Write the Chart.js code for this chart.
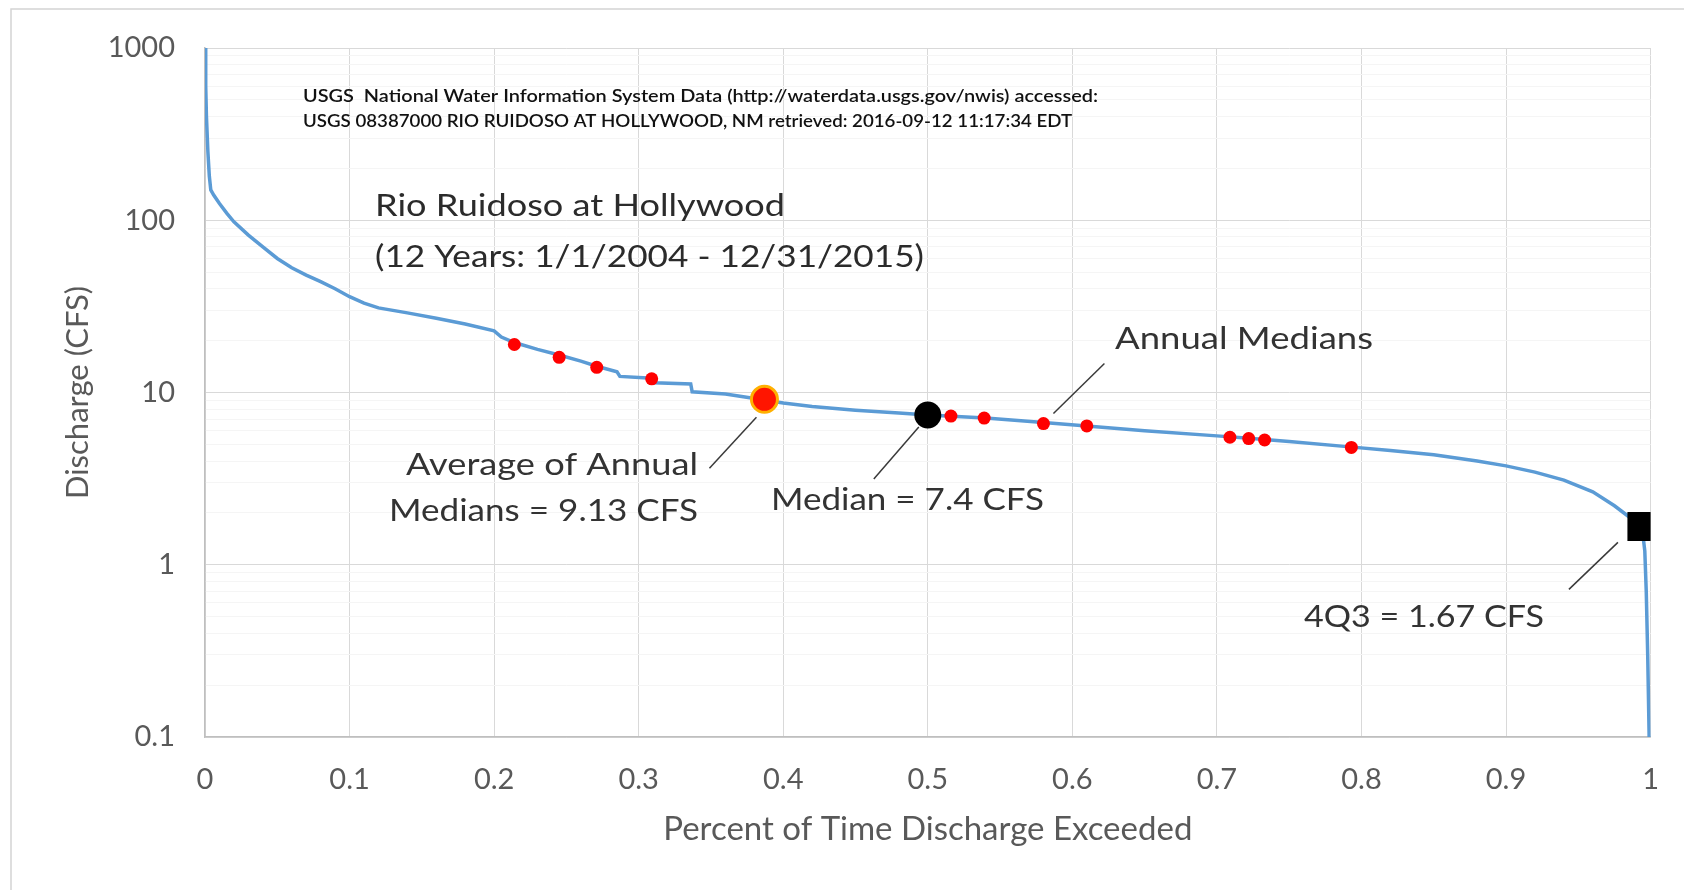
<!DOCTYPE html>
<html><head><meta charset="utf-8">
<script src="https://cdn.jsdelivr.net/npm/chart.js@4.4.1/dist/chart.umd.min.js"></script>
<style>html,body{margin:0;padding:0;background:#fff;overflow:hidden}</style>
</head><body>
<canvas id="c" width="1684" height="890"></canvas>
<script>
// Flow duration curve (fraction of time exceeded vs discharge, CFS)
const exceedance = [0, 0.0005, 0.001, 0.002, 0.003, 0.004, 0.006, 0.01, 0.015, 0.02, 0.03, 0.04, 0.05, 0.06, 0.07, 0.08, 0.09, 0.1, 0.11, 0.12, 0.14, 0.16, 0.18, 0.2, 0.205, 0.214, 0.23, 0.245, 0.26, 0.271, 0.285, 0.287, 0.309, 0.311, 0.336, 0.337, 0.36, 0.387, 0.4, 0.42, 0.45, 0.48, 0.5, 0.52, 0.54, 0.58, 0.61, 0.65, 0.7, 0.72, 0.75, 0.79, 0.82, 0.85, 0.88, 0.9, 0.92, 0.94, 0.96, 0.975, 0.985, 0.994, 0.996, 0.997, 0.998, 0.999];
const discharge  = [1000, 600, 400, 250, 180, 150, 140, 125, 110, 98, 82, 70, 60, 53, 48, 44, 40, 36, 33, 31, 29, 27, 25, 22.8, 21, 19.5, 17.8, 16.5, 15.2, 14.2, 13.2, 12.4, 12.1, 11.4, 11.2, 10.1, 9.8, 9.05, 8.7, 8.3, 7.9, 7.6, 7.4, 7.25, 7.1, 6.7, 6.4, 6.0, 5.6, 5.45, 5.2, 4.85, 4.6, 4.35, 4.0, 3.75, 3.45, 3.1, 2.65, 2.2, 1.9, 1.67, 1.2, 0.7, 0.3, 0.1];

// Annual medians (12 years)
const annualMedianX = [0.214, 0.245, 0.271, 0.309, 0.516, 0.539, 0.580, 0.610, 0.709, 0.722, 0.733, 0.793];
const annualMedianY = [19.0, 16.0, 14.0, 12.0, 7.3, 7.1, 6.6, 6.4, 5.5, 5.4, 5.3, 4.8];

const avgMedianX = [0.387], avgMedianY = [9.13];
const medianX = [0.5], medianY = [7.4];
const q43X = [0.994], q43Y = [1.67];

const xTickValues = [0, 0.1, 0.2, 0.3, 0.4, 0.5, 0.6, 0.7, 0.8, 0.9, 1];
const xTickLabels = ['0', '0.1', '0.2', '0.3', '0.4', '0.5', '0.6', '0.7', '0.8', '0.9', '1'];
const yMajorTicks = [0.1, 1, 10, 100, 1000];
const yTickLabels = ['0.1', '1', '10', '100', '1000'];

const zip = (xs, ys) => xs.map((x, i) => ({x: x, y: ys[i]}));
const isMajorY = v => yMajorTicks.some(m => Math.abs(m - v) < 1e-9 * Math.max(1, m));

function drawFit(ctx, text, x, y, size, width, align, color, weight) {
  ctx.save();
  ctx.font = (weight || 'normal') + ' ' + size + 'px Lato';
  const w = ctx.measureText(text).width;
  const sx = width / w;
  ctx.fillStyle = color;
  ctx.textBaseline = 'middle';
  ctx.textAlign = 'left';
  const left = align === 'right' ? x - width : x;
  ctx.translate(left, y);
  ctx.scale(sx, 1);
  ctx.fillText(text, 0, 0);
  ctx.restore();
}

const annotations = {
  id: 'annotations',
  beforeDraw(chart) {
    const ctx = chart.ctx;
    ctx.save();
    ctx.fillStyle = '#fff';
    ctx.fillRect(0, 0, chart.width, chart.height);
    ctx.strokeStyle = '#d4d4d4';
    ctx.lineWidth = 1.5;
    ctx.strokeRect(11, 9, chart.width + 20, chart.height + 20);
    ctx.restore();
  },
  afterDatasetsDraw(chart) {
    const ctx = chart.ctx;
    const xs = chart.scales.x, ys = chart.scales.y;
    const px = (x, y) => [xs.getPixelForValue(x), ys.getPixelForValue(y)];
    ctx.save();
    ctx.strokeStyle = '#3a3a3a';
    ctx.lineWidth = 1.5;
    const leader = (p, a, b) => { ctx.beginPath(); ctx.moveTo(p[0] + a[0], p[1] + a[1]); ctx.lineTo(p[0] + b[0], p[1] + b[1]); ctx.stroke(); };
    leader(px(avgMedianX[0], avgMedianY[0]), [-8, 18], [-55, 69]);
    leader(px(medianX[0], medianY[0]), [-9, 12], [-54, 64]);
    leader(px(annualMedianX[6], annualMedianY[6]), [10, -10], [61, -60]);
    leader(px(q43X[0], q43Y[0]), [-24, 16], [-73, 63]);
    ctx.restore();

    drawFit(ctx, 'USGS  National Water Information System Data (http://waterdata.usgs.gov/nwis) accessed:', 303, 97, 17, 795, 'left', '#111', '600');
    drawFit(ctx, 'USGS 08387000 RIO RUIDOSO AT HOLLYWOOD, NM retrieved: 2016-09-12 11:17:34 EDT', 303, 122, 17, 769, 'left', '#111', '600');
    drawFit(ctx, 'Rio Ruidoso at Hollywood', 375, 206, 31, 410, 'left', '#2b2b2b');
    drawFit(ctx, '(12 Years: 1/1/2004 - 12/31/2015)', 375, 257, 31, 549, 'left', '#2b2b2b');
    drawFit(ctx, 'Annual Medians', 1115, 339, 31, 258, 'left', '#333');
    drawFit(ctx, 'Average of Annual', 698, 465, 31, 292, 'right', '#333');
    drawFit(ctx, 'Medians = 9.13 CFS', 698, 511, 31, 309, 'right', '#333');
    drawFit(ctx, 'Median = 7.4 CFS', 771, 500, 31, 273, 'left', '#333');
    drawFit(ctx, '4Q3 = 1.67 CFS', 1304, 617, 31, 240, 'left', '#333');
  }
};

new Chart(document.getElementById('c'), {
  type: 'scatter',
  data: {
    datasets: [
      { label: '4Q3', data: zip(q43X, q43Y), pointStyle: 'rect', pointRadius: 20.5, backgroundColor: '#000', borderWidth: 0, order: 1 },
      { label: 'Median', data: zip(medianX, medianY), pointRadius: 13.5, backgroundColor: '#000', borderWidth: 0, order: 2 },
      { label: 'Average of Annual Medians', data: zip(avgMedianX, avgMedianY), pointRadius: 13, backgroundColor: '#ff1500', borderColor: '#ffb000', borderWidth: 3, order: 3 },
      { label: 'Annual Medians', data: zip(annualMedianX, annualMedianY), pointRadius: 6.5, backgroundColor: '#ff0000', borderWidth: 0, order: 4 },
      { label: 'Flow duration', data: zip(exceedance, discharge), showLine: true, pointRadius: 0, borderColor: '#5b9bd5', borderWidth: 3.5, tension: 0, order: 10 }
    ]
  },
  options: {
    responsive: false,
    animation: false,
    devicePixelRatio: 1,
    layout: { padding: { left: 0, top: 48, right: 30, bottom: 0 } },
    plugins: { legend: { display: false }, tooltip: { enabled: false } },
    scales: {
      x: {
        type: 'linear', position: 'bottom', min: 0, max: 1,
        afterBuildTicks: s => { s.ticks = xTickValues.map(v => ({ value: v })); },
        afterFit: s => { s.height = 153; },
        ticks: { autoSkip: false, maxRotation: 0, padding: 25, color: '#595959', font: { family: 'Lato', size: 29 },
                 callback: (v, i) => xTickLabels[i] },
        grid: { color: '#d9d9d9', lineWidth: 1, drawTicks: false },
        border: { color: '#bfbfbf', width: 1.5 },
        title: { display: true, text: 'Percent of Time Discharge Exceeded', color: '#595959',
                 font: { family: 'Lato', size: 33 }, padding: { top: 0, bottom: 41 } }
      },
      y: {
        type: 'logarithmic', position: 'left', min: 0.1, max: 1000,
        afterBuildTicks: s => {
          const t = [];
          for (let k = 0; k < yMajorTicks.length - 1; k++) {
            for (let m = 1; m < 10; m++) t.push({ value: yMajorTicks[k] * m });
          }
          t.push({ value: yMajorTicks[yMajorTicks.length - 1] });
          s.ticks = t;
        },
        afterFit: s => { s.width = 205; },
        ticks: { autoSkip: false, padding: 30, color: '#595959', font: { family: 'Lato', size: 29 },
                 callback: v => { const i = yMajorTicks.findIndex(m => Math.abs(m - v) < 1e-9 * Math.max(1, m)); return i >= 0 ? yTickLabels[i] : ''; } },
        grid: { color: c => (c.tick && isMajorY(c.tick.value)) ? '#d9d9d9' : '#f5f5f5', lineWidth: 1, drawTicks: false },
        border: { color: '#bfbfbf', width: 1.5 },
        title: { display: true, text: 'Discharge (CFS)', color: '#595959',
                 font: { family: 'Lato', size: 31 }, padding: { top: 59, bottom: 0 } }
      }
    }
  },
  plugins: [annotations]
});
</script>
</body></html>
